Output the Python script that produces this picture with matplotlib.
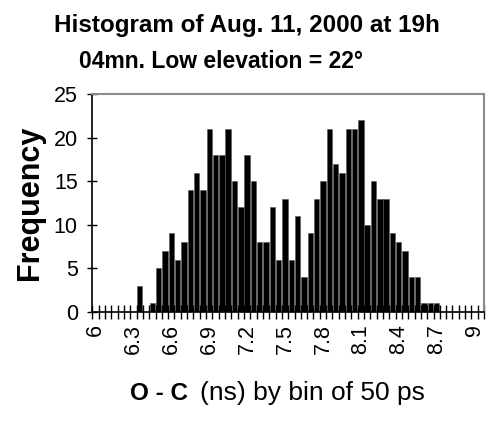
import numpy as np
import matplotlib
matplotlib.use("Agg")
import matplotlib.pyplot as plt

plt.rcParams['font.family'] = ['Liberation Sans', 'DejaVu Sans']

# bins of 50 ps from 6.00 to 9.00 ns, plus Excel's "More" bin
bin_labels = ["%g" % round(6 + 0.05 * i, 2) for i in range(61)] + ["More"]
counts = [0, 0, 0, 0, 0, 0, 0, 3, 0, 1,
          5, 7, 9, 6, 8, 14, 16, 14, 21, 18,
          18, 21, 15, 12, 18, 15, 8, 8, 12, 6,
          13, 6, 11, 4, 9, 13, 15, 21, 17, 16,
          21, 21, 22, 10, 15, 13, 13, 9, 8, 7,
          4, 4, 1, 1, 1, 0, 0, 0, 0, 0,
          0, 0]
shown = ["6", "6.3", "6.6", "6.9", "7.2", "7.5", "7.8", "8.1", "8.4", "8.7", "9"]

fig = plt.figure(figsize=(4.86, 4.23), dpi=100)
ax = fig.add_axes([0.19, 0.263, 0.806, 0.514])

x = np.arange(len(counts))
ax.bar(x, counts, width=0.86, color="black", edgecolor="#555555", linewidth=0.4)

ax.set_xlim(-0.5, len(counts) - 0.5)
ax.set_ylim(0, 25)
ax.set_yticks([0, 5, 10, 15, 20, 25])

pos = [bin_labels.index(s) for s in shown]
ax.set_xticks(pos)
ax.set_xticklabels(shown, rotation=90, fontsize=15.5)
ax.set_xticks(np.arange(len(counts) + 1) - 0.5, minor=True)
ax.tick_params(axis="x", which="major", length=0, pad=9)
ax.tick_params(axis="x", which="minor", direction="inout", length=10, width=1)
ax.tick_params(axis="y", direction="inout", length=7, width=1, labelsize=15.5, pad=7)

for s in ["left", "bottom"]:
    ax.spines[s].set_color("black")
    ax.spines[s].set_linewidth(1.2)
for s in ["top", "right"]:
    ax.spines[s].set_color("#8c8c8c")
    ax.spines[s].set_linewidth(1.5)

ax.set_ylabel("Frequency", fontsize=22, fontweight="bold", labelpad=6)

fig.text(0.508, 0.94, "Histogram of Aug. 11, 2000 at 19h", ha="center", va="center",
         fontsize=17.5, fontweight="bold")
fig.text(0.455, 0.855, "04mn. Low elevation = 22°", ha="center", va="center",
         fontsize=16.5, fontweight="bold")

fig.text(0.268, 0.07, "O - C", ha="left", va="center", fontsize=17.5, fontweight="bold")
fig.text(0.411, 0.07, "(ns) by bin of 50 ps", ha="left", va="center", fontsize=19)

fig.savefig("out.png", dpi=100)
